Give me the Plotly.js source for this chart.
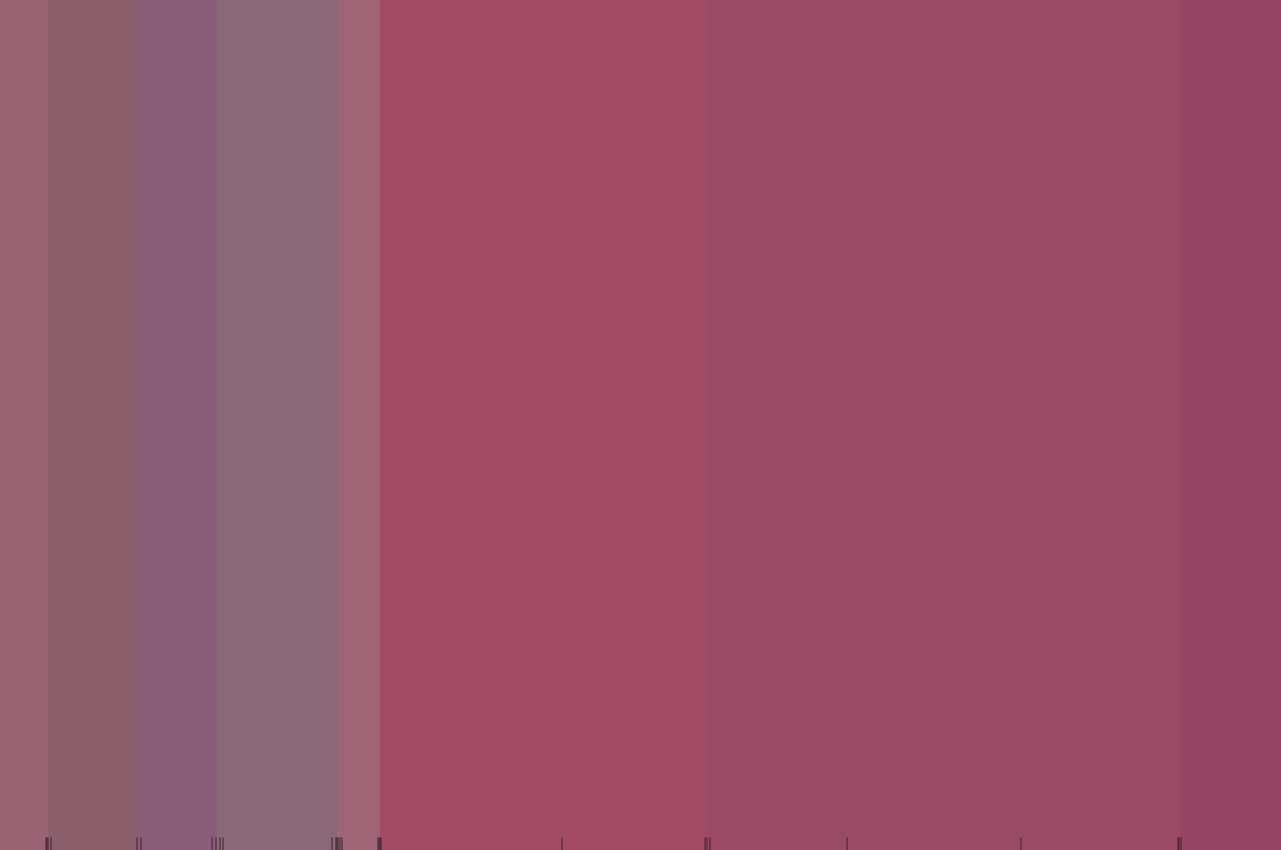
<!DOCTYPE html>
<html>
<head>
<meta charset="utf-8">
<script src="https://cdn.plot.ly/plotly-3.0.1.min.js"></script>
<style>
  html, body { margin: 0; padding: 0; background: #ffffff; }
  #graph { width: 1281px; height: 850px; }
</style>
</head>
<body>
<div id="graph"></div>
<script>
// band edges along x, one colour per band
var bandEdges = [0, 48, 137, 217, 337, 380, 708, 1180, 1281];
var bandColors = ['#9a6374', '#8b5e6c', '#8b5e77', '#8b6876', '#9f6475', '#a24b65', '#9a4a64', '#974565'];

// rug positions
var rugX = [46, 47, 48, 51, 137, 141, 212, 216, 220, 223, 332, 336, 337, 338, 340, 342,
            378, 379, 380, 381, 562, 705, 707, 710, 847, 1021, 1178, 1179, 1181];

var bandIndex = bandColors.map((c, i) => i);
var scale = bandColors.map((c, i) => [i / (bandColors.length - 1), c]);

var bands = {
    type: 'heatmap',
    x: bandEdges,
    y: [0, 1],
    z: [bandIndex],
    colorscale: scale,
    zmin: 0,
    zmax: bandColors.length - 1,
    showscale: false,
    hoverinfo: 'x'
};

var rug = {
    type: 'scatter',
    mode: 'markers',
    x: rugX,
    y: rugX.map(() => 0),
    marker: {
        symbol: 'line-ns-open',
        size: 18,
        color: '#3a2230',
        line: { width: 1, color: '#3a2230' }
    },
    cliponaxis: true,
    hoverinfo: 'x'
};

var layout = {
    width: 1281,
    height: 850,
    margin: { l: 0, r: 0, t: 0, b: 0, pad: 0 },
    paper_bgcolor: '#ffffff',
    plot_bgcolor: '#ffffff',
    showlegend: false,
    xaxis: { range: [0, 1281], visible: false, fixedrange: true },
    yaxis: { range: [0, 1], visible: false, fixedrange: true }
};

Plotly.newPlot('graph', [bands, rug], layout, { displayModeBar: false, staticPlot: true });
</script>
</body>
</html>
